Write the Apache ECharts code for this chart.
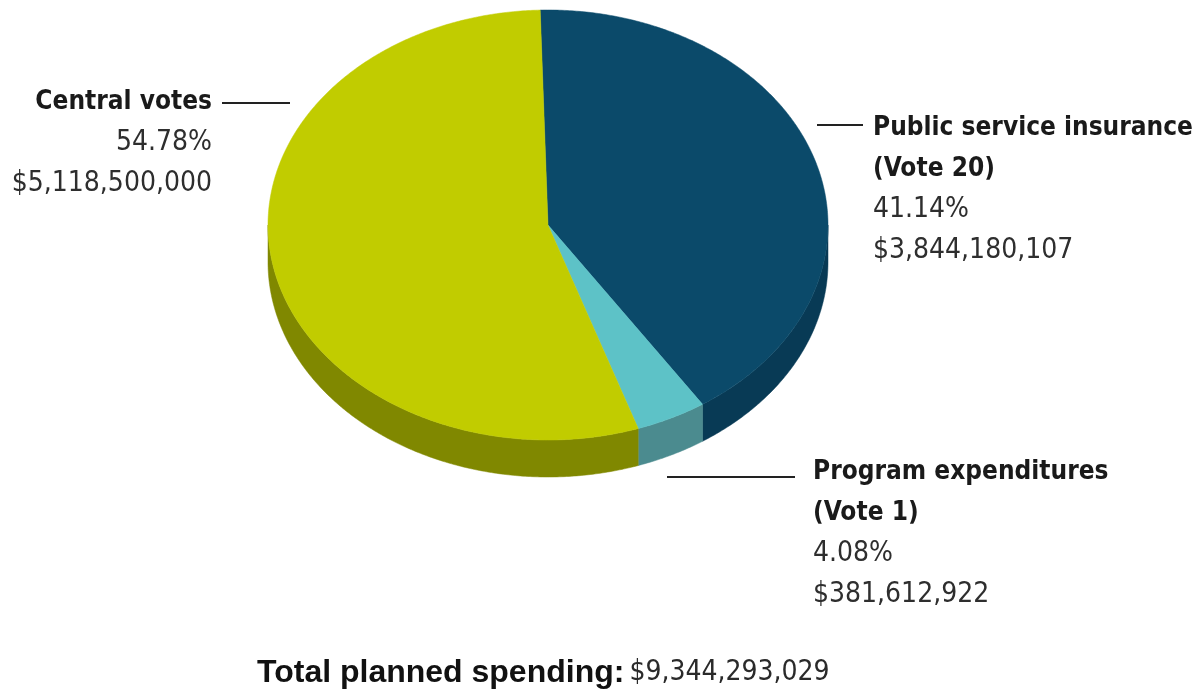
<!DOCTYPE html>
<html>
<head>
<meta charset="utf-8">
<script src="https://cdn.jsdelivr.net/npm/echarts@6/dist/echarts.min.js"></script>
<style>
  html, body { margin: 0; padding: 0; background: #ffffff; }
  #chart { width: 1197px; height: 695px; }
</style>
</head>
<body>
<div id="chart"></div>
<script>
// Slices in clockwise order, starting at twelve o'clock
const sliceNames = [
  ['Public service insurance', '(Vote 20)'],
  ['Program expenditures', '(Vote 1)'],
  ['Central votes']
];
const amounts = [3844180107, 381612922, 5118500000];
const topColors = ['#0b4a6a', '#5dc2c7', '#c1cc00'];
const sideColors = ['#083a55', '#4b8b8f', '#808800'];

// Pie geometry (tilted disc)
const CX = 548, CY = 225, RX = 280, RY = 215, DEPTH = 37, START_DEG = -1.6;

// Label placement for each slice
const labelLayout = [
  { x: 873, y: 128, align: 'left', line: [817, 125, 863, 125] },
  { x: 813, y: 472, align: 'left', line: [667, 477, 795, 477] },
  { x: 212, y: 102, align: 'right', line: [222, 103, 290, 103] }
];
const LINE_GAP = 41;
const FONT_NARROW = "'DejaVu Sans Condensed', 'Liberation Sans Narrow', sans-serif";

const total = amounts.reduce((a, b) => a + b, 0);
const fmtMoney = v => '$' + v.toLocaleString('en-US');
const fmtPct = v => (v / total * 100).toFixed(2) + '%';

// cumulative start angle (degrees, clockwise from top) for each slice
const starts = [];
amounts.reduce((acc, v, i) => { starts[i] = acc; return acc + v; }, 0);

function pt(deg, dy) {
  const r = deg * Math.PI / 180;
  return [CX + RX * Math.sin(r), CY - RY * Math.cos(r) + (dy || 0)];
}
function arc(a0, a1, dy) {
  const pts = [];
  const n = Math.max(2, Math.ceil(Math.abs(a1 - a0) / 0.5));
  for (let k = 0; k <= n; k++) pts.push(pt(a0 + (a1 - a0) * k / n, dy));
  return pts;
}

function renderItem(params, api) {
  const i = params.dataIndex;
  const value = api.value(0);
  const a0 = START_DEG + starts[i] / total * 360;
  const a1 = a0 + value / total * 360;
  const children = [];
  // visible side wall: front half of the rim (90°..270°)
  const s0 = Math.max(a0, 90), s1 = Math.min(a1, 270);
  if (s1 > s0) {
    const upper = arc(s0, s1, 0);
    const lower = arc(s0, s1, DEPTH).reverse();
    children.push({
      type: 'polygon',
      shape: { points: upper.concat(lower) },
      style: { fill: sideColors[i], stroke: sideColors[i], lineWidth: 0.5 },
      z2: 1
    });
  }
  children.push({
    type: 'polygon',
    shape: { points: [[CX, CY]].concat(arc(a0, a1, 0)) },
    style: { fill: topColors[i], stroke: topColors[i], lineWidth: 0.5 },
    z2: 2
  });
  return { type: 'group', children };
}

// label texts and leader lines
const graphics = [];
amounts.forEach((v, i) => {
  const L = labelLayout[i];
  const lines = sliceNames[i].map(t => ({ text: t, bold: true }))
    .concat([{ text: fmtPct(v), bold: false }, { text: fmtMoney(v), bold: false }]);
  lines.forEach((ln, k) => {
    graphics.push({
      type: 'text',
      x: L.x, y: L.y + k * LINE_GAP,
      style: {
        text: ln.text,
        fill: ln.bold ? '#1a1a1a' : '#2e2e2e',
        font: (ln.bold ? 'bold 26px ' : '28px ') + FONT_NARROW,
        textAlign: L.align,
        textVerticalAlign: 'middle'
      }
    });
  });
  graphics.push({
    type: 'line',
    shape: { x1: L.line[0], y1: L.line[1], x2: L.line[2], y2: L.line[3] },
    style: { stroke: '#222222', lineWidth: 2 }
  });
});

const chart = echarts.init(document.getElementById('chart'));
chart.setOption({
  backgroundColor: '#ffffff',
  animation: false,
  title: {
    text: '{b|Total planned spending:} {n|' + fmtMoney(total) + '}',
    left: 252,
    top: 652,
    textStyle: {
      fontWeight: 'normal',
      rich: {
        b: { fontFamily: "'Liberation Sans', Arial, sans-serif", fontWeight: 'bold', fontSize: 32, color: '#111111' },
        n: { fontFamily: FONT_NARROW, fontWeight: 'normal', fontSize: 28, color: '#2a2a2a' }
      }
    }
  },
  graphic: graphics,
  series: [{
    type: 'custom',
    coordinateSystem: 'none',
    renderItem: renderItem,
    data: amounts.map(v => [v])
  }]
});
</script>
</body>
</html>
